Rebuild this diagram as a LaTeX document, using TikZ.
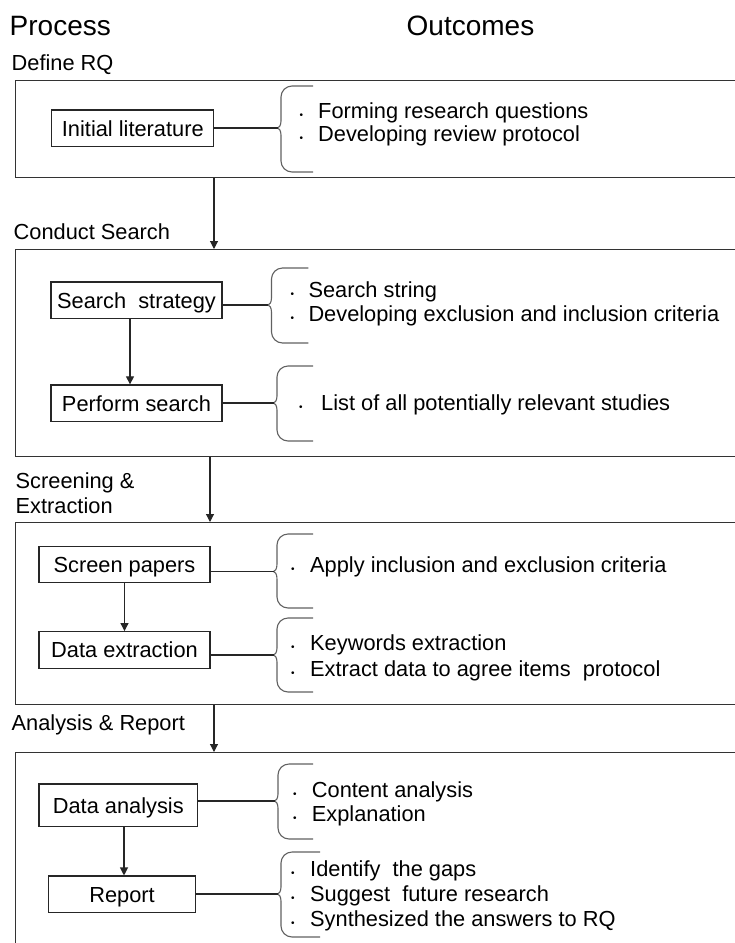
\documentclass[tikz,border=0pt]{standalone}
\usepackage{fontspec}
\setmainfont{Liberation Sans}
\usetikzlibrary{arrows.meta}
\newcommand\mybrace[6]{%
  \coordinate (#1) at ({#2-3.5},#3);
  \draw[bracestyle, rounded corners=11pt] (#6,#4) -- (#2,#4) -- (#2,{#3-7});
  \draw[bracestyle] (#2,{#3-7}) .. controls (#2,{#3-2}) and ({#2-2.5},#3) .. (#1) .. controls ({#2-2.5},#3) and (#2,{#3+2}) .. (#2,{#3+7});
  \draw[bracestyle, rounded corners=11pt] (#2,{#3+7}) -- (#2,#5) -- (#6,#5);
}
\newcommand\itm[5]{\node[items] (#1) at (#2,#3) {\makebox[#4pt][l]{\fontsize{10}{10}\selectfont\textbullet}#5};}
\begin{document}
\begin{tikzpicture}[x=1pt,y=-1pt,
  outer/.style={draw=black!80, line width=1.4pt, anchor=north west, minimum width=800pt, inner sep=0pt},
  procbox/.style={draw=black!85, line width=1.2pt, inner sep=0pt, text height=15.6pt, text depth=0pt, font=\fontsize{21.8}{24}\selectfont},
  lbl/.style={anchor=base west, inner sep=0pt, font=\fontsize{21.8}{25}\selectfont},
  hdr/.style={anchor=base west, inner sep=0pt, font=\fontsize{28}{30}\selectfont},
  items/.style={anchor=base west, inner sep=0pt, font=\fontsize{21.8}{25}\selectfont},
  conn/.style={draw=black!85, line width=1.1pt},
  arr/.style={conn, -{Triangle[length=8pt,width=8pt]}},
  bracestyle/.style={draw=black!62, line width=1.1pt}
]
\useasboundingbox (0,0) rectangle (735,943);
\clip (0,0) rectangle (735,943);

% headers
\node[hdr] (hp) at (9.5,35) {Process};
\node[hdr] (ho) at (406.5,35) {Outcomes};

% Section 1
\node[lbl] (s1) at (11.5,70.7) {Define RQ};
\node[outer, minimum height=97pt] (b1) at (15,80) {};
\node[procbox, minimum width=162pt, minimum height=36.5pt] (il) at (132.8,128.3) {Initial literature};
\mybrace{br1}{281}{128}{86}{172}{313}
\draw[conn] (il.east |- br1) -- (br1);
\itm{o1a}{299.5}{118.3}{18.5}{Forming research questions}
\itm{o1b}{299.5}{141.7}{18.5}{Developing review protocol}

% Section 2
\node[lbl] (s2) at (13.5,239) {Conduct Search};
\node[outer, minimum height=207pt] (b2) at (14.5,249) {};
\coordinate (ax1) at (214,0);
\draw[arr] (b1.south -| ax1) -- (b2.north -| ax1);
\node[procbox, minimum width=171pt, minimum height=36.3pt] (ss) at (136.5,300.2) {Search~~strategy};
\mybrace{br2}{271.5}{305}{268}{343}{308.3}
\draw[conn] (ss.east |- br2) -- (br2);
\itm{o2a}{290.5}{297}{17.8}{Search string}
\itm{o2b}{290.5}{321.7}{17.8}{Developing exclusion and inclusion criteria}
\node[procbox, minimum width=171pt, minimum height=36.7pt] (ps) at (136.5,403.3) {Perform search};
\coordinate (ax2) at (130,0);
\draw[arr] (ss.south -| ax2) -- (ps.north -| ax2);
\mybrace{br3}{277}{403}{366}{441}{313}
\draw[conn] (ps.east |- br3) -- (br3);
\itm{o3a}{298.8}{410.7}{22.2}{List of all potentially relevant studies}

% Section 3
\node[lbl] (s3a) at (15.5,488) {Screening \&};
\node[lbl] (s3b) at (15.5,513) {Extraction};
\node[outer, minimum height=182pt] (b3) at (14.5,522) {};
\coordinate (ax3) at (210,0);
\draw[arr] (b2.south -| ax3) -- (b3.north -| ax3);
\node[procbox, minimum width=171pt, minimum height=36pt] (sp) at (124.5,564.7) {Screen papers};
\mybrace{br4}{277}{571.5}{534}{608}{313}
\draw[conn] (sp.east |- br4) -- (br4);
\itm{o4a}{291}{572.7}{19}{Apply inclusion and exclusion criteria}
\node[procbox, minimum width=171pt, minimum height=36.7pt] (de) at (124.5,650) {Data extraction};
\draw[arr] (sp) -- (de);
\mybrace{br5}{277}{655}{618}{692}{313}
\draw[conn] (de.east |- br5) -- (br5);
\itm{o5a}{291}{650}{19}{Keywords extraction}
\itm{o5b}{291}{676}{19}{Extract data to agree items~~protocol}

% Section 4
\node[lbl] (s4) at (11.5,730.7) {Analysis \& Report};
\node[outer, minimum height=260pt] (b4) at (14.5,752) {};
\coordinate (ax4) at (214,0);
\draw[arr] (b3.south -| ax4) -- (b4.north -| ax4);
\node[procbox, minimum width=158.7pt, minimum height=42.7pt] (da) at (118.3,805.3) {Data analysis};
\mybrace{br6}{278}{801}{764}{839}{313}
\draw[conn] (da.east |- br6) -- (br6);
\itm{o6a}{292.8}{797}{18.9}{Content analysis}
\itm{o6b}{292.8}{821.7}{18.9}{Explanation}
\node[procbox, minimum width=147.7pt, minimum height=36.3pt] (rp) at (122,894.2) {Report};
\coordinate (ax5) at (124,0);
\draw[arr] (da.south -| ax5) -- (rp.north -| ax5);
\mybrace{br7}{281}{894}{852}{937}{320}
\draw[conn] (rp.east |- br7) -- (br7);
\itm{o7a}{291}{876.7}{19}{Identify~~the gaps}
\itm{o7b}{291}{901.7}{19}{Suggest~~future research}
\itm{o7c}{291}{926}{19}{Synthesized the answers to RQ}
\end{tikzpicture}
\end{document}
